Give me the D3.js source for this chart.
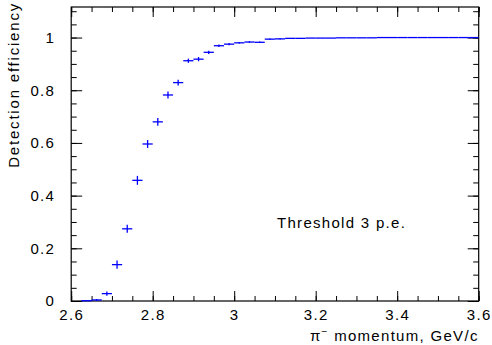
<!DOCTYPE html>
<html>
<head>
<meta charset="utf-8">
<script src="https://cdn.jsdelivr.net/npm/d3@7"></script>
<style>
  body { margin: 0; background: #fff; }
  svg { display: block; font-family: "Liberation Sans", Arial, sans-serif; }
  text { letter-spacing: 1.3px; }
</style>
</head>
<body>
<div id="chart"></div>
<script>
// Bin centres (GeV/c), bin width 0.025
const momentum = [2.6375, 2.6625, 2.6875, 2.7125, 2.7375, 2.7625, 2.7875, 2.8125, 2.8375, 2.8625,
    2.8875, 2.9125, 2.9375, 2.9625, 2.9875, 3.0125, 3.0375, 3.0625, 3.0875, 3.1125,
    3.1375, 3.1625, 3.1875, 3.2125, 3.2375, 3.2625, 3.2875, 3.3125, 3.3375, 3.3625,
    3.3875, 3.4125, 3.4375, 3.4625, 3.4875, 3.5125, 3.5375, 3.5625, 3.5875];
const efficiency = [0.001, 0.004, 0.028, 0.138, 0.274, 0.458, 0.596, 0.680, 0.782, 0.829,
    0.912, 0.918, 0.944, 0.969, 0.975, 0.980, 0.983, 0.982, 0.994, 0.995,
    0.997, 0.997, 0.998, 0.998, 0.998, 0.999, 0.999, 0.999, 0.999, 1.0,
    1.0, 1.0, 1.0, 1.0, 1.0, 1.0, 1.0, 1.0, 1.0];
const effError = [0.002, 0.004, 0.008, 0.016, 0.015, 0.017, 0.015, 0.015, 0.013, 0.011,
    0.008, 0.008, 0.006, 0.005, 0.004, 0.003, 0.003, 0.003, 0.002, 0.002,
    0.001, 0.001, 0.001, 0.001, 0.001, 0.001, 0.001, 0.001, 0.001, 0.001,
    0.001, 0.001, 0.001, 0.001, 0.001, 0.001, 0.001, 0.001, 0.001];
const binHalf = 0.0125;
const xTicks = [2.6, 2.8, 3.0, 3.2, 3.4, 3.6];
const yTicks = [0, 0.2, 0.4, 0.6, 0.8, 1.0];
const xMinor = d3.range(2.6, 3.6001, 0.05);
const yMinor = d3.range(0, 1.1001, 0.05);

const data = momentum.map((m, i) => ({ x: m, y: efficiency[i], e: effError[i] }));

const width = 492, height = 345;
const margin = { top: 7, right: 13.3, bottom: 44, left: 71.2 };
const innerW = width - margin.left - margin.right;
const innerH = height - margin.top - margin.bottom;

const svg = d3.select("#chart").append("svg")
    .attr("width", width)
    .attr("height", height);
const g = svg.append("g")
    .attr("transform", `translate(${margin.left},${margin.top})`);

const xScale = d3.scaleLinear().domain([2.6, 3.6]).range([0, innerW]);
const yScale = d3.scaleLinear().domain([0, 1.116]).range([innerH, 0]);

const fmt = d3.format("~g");

function styleAxis(sel) {
    sel.select(".domain").remove();
    sel.selectAll("line").attr("stroke", "#000").attr("stroke-width", 1);
    sel.selectAll("text").attr("fill", "#000").style("font-size", "15px");
}

// Bottom axis: major + minor, ticks inward
g.append("g").attr("transform", `translate(0,${innerH})`)
    .call(d3.axisBottom(xScale).tickValues(xTicks).tickSize(-10).tickPadding(8).tickFormat(fmt))
    .call(styleAxis);
g.append("g").attr("transform", `translate(0,${innerH})`)
    .call(d3.axisBottom(xScale).tickValues(xMinor).tickSize(-5).tickFormat(""))
    .call(styleAxis);
// Top axis (mirror)
g.append("g")
    .call(d3.axisTop(xScale).tickValues(xTicks).tickSize(-10).tickFormat(""))
    .call(styleAxis);
g.append("g")
    .call(d3.axisTop(xScale).tickValues(xMinor).tickSize(-5).tickFormat(""))
    .call(styleAxis);

// Left axis
g.append("g")
    .call(d3.axisLeft(yScale).tickValues(yTicks).tickSize(-11).tickPadding(16).tickFormat(fmt))
    .call(styleAxis);
g.append("g")
    .call(d3.axisLeft(yScale).tickValues(yMinor).tickSize(-5.5).tickFormat(""))
    .call(styleAxis);
// Right axis (mirror)
g.append("g").attr("transform", `translate(${innerW},0)`)
    .call(d3.axisRight(yScale).tickValues(yTicks).tickSize(-11).tickFormat(""))
    .call(styleAxis);
g.append("g").attr("transform", `translate(${innerW},0)`)
    .call(d3.axisRight(yScale).tickValues(yMinor).tickSize(-5.5).tickFormat(""))
    .call(styleAxis);

// Frame
g.append("rect")
    .attr("width", innerW)
    .attr("height", innerH)
    .attr("fill", "none")
    .attr("stroke", "#000")
    .attr("stroke-width", 1.2);

// Data points with error bars
const pts = g.append("g").attr("stroke", "#0000ff").attr("stroke-width", 1.3);
pts.selectAll(".hbar").data(data).join("line")
    .attr("x1", d => xScale(d.x - binHalf))
    .attr("x2", d => xScale(d.x + binHalf))
    .attr("y1", d => yScale(d.y))
    .attr("y2", d => yScale(d.y));
pts.selectAll(".vbar").data(data.filter(d => d.e > 0.0015)).join("line")
    .attr("x1", d => xScale(d.x))
    .attr("x2", d => xScale(d.x))
    .attr("y1", d => yScale(Math.max(0, d.y - d.e)))
    .attr("y2", d => yScale(d.y + d.e));

// Annotation
g.append("text")
    .attr("x", 277 - margin.left)
    .attr("y", 228 - margin.top)
    .style("font-size", "15px")
    .text("Threshold 3 p.e.");

// Axis titles
const xTitle = svg.append("text")
    .attr("x", margin.left + innerW)
    .attr("y", 341)
    .attr("text-anchor", "end")
    .style("font-size", "15px");
xTitle.append("tspan").text("π");
xTitle.append("tspan").attr("dy", -6).style("font-size", "10px").text("−");
xTitle.append("tspan").attr("dy", 6).text(" momentum, GeV/c");

svg.append("text")
    .attr("transform", "rotate(-90)")
    .attr("x", -2)
    .attr("y", 19)
    .attr("text-anchor", "end")
    .style("font-size", "15px")
    .style("letter-spacing", "1.8px")
    .text("Detection efficiency");
</script>
</body>
</html>
